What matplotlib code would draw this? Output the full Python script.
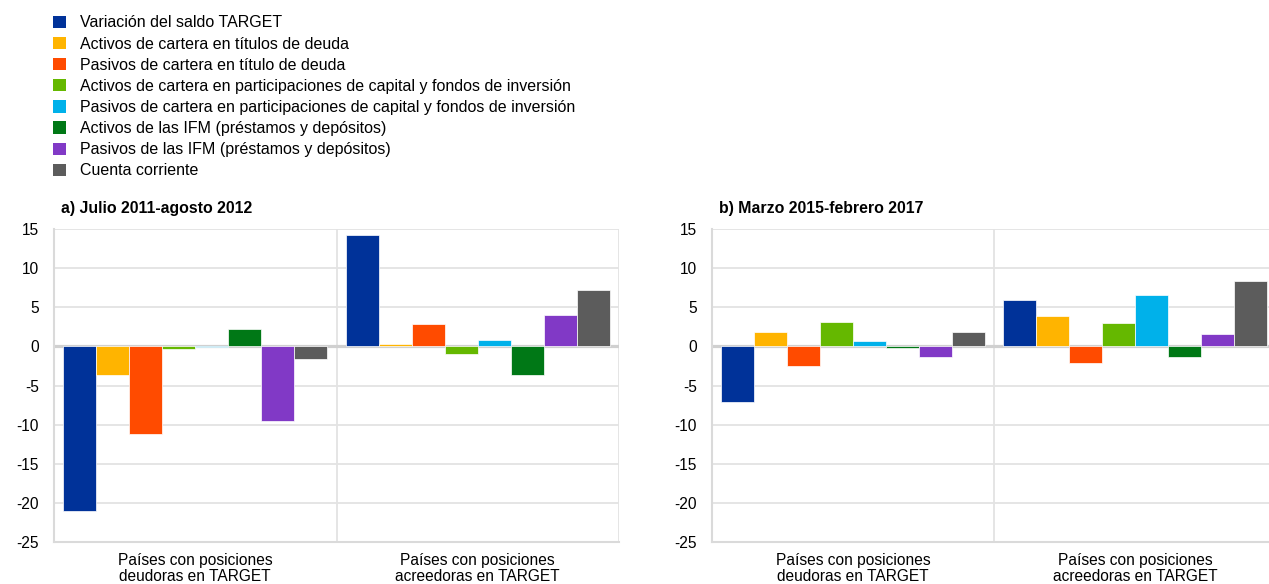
import numpy as np
import matplotlib.pyplot as plt
from matplotlib.patches import Patch

plt.rcParams['font.family'] = ['Liberation Sans', 'DejaVu Sans']
plt.rcParams['axes.unicode_minus'] = False

series = ['Variación del saldo TARGET',
          'Activos de cartera en títulos de deuda',
          'Pasivos de cartera en título de deuda',
          'Activos de cartera en participaciones de capital y fondos de inversión',
          'Pasivos de cartera en participaciones de capital y fondos de inversión',
          'Activos de las IFM (préstamos y depósitos)',
          'Pasivos de las IFM (préstamos y depósitos)',
          'Cuenta corriente']
colors = ['#003299', '#FFB400', '#FF4B00', '#65B800',
          '#00B1EA', '#007816', '#8139C6', '#5C5C5C']
categories = ['Países con posiciones\ndeudoras en TARGET',
              'Países con posiciones\nacreedoras en TARGET']

# rows: debtor countries, creditor countries; columns: series
panel_a = [[-21.0, -3.6, -11.2, -0.3, -0.1, 2.2, -9.6, -1.6],
           [14.2, 0.3, 2.8, -1.0, 0.8, -3.7, 4.0, 7.2]]
panel_b = [[-7.1, 1.8, -2.5, 3.1, 0.7, -0.2, -1.4, 1.9],
           [5.9, 3.9, -2.1, 3.0, 6.6, -1.4, 1.6, 8.4]]
titles = ['a) Julio 2011-agosto 2012', 'b) Marzo 2015-febrero 2017']

W, H = 1269, 584
fig = plt.figure(figsize=(W / 100, H / 100), dpi=100)
ax_a = fig.add_axes([54 / W, 1 - 542 / H, 565 / W, 313 / H])
ax_b = fig.add_axes([712 / W, 1 - 542 / H, 564 / W, 313 / H])

grid_c = '#E3E3E3'
fs = 11.2
bw = 0.117
for ax, data, title in zip([ax_a, ax_b], [panel_a, panel_b], titles):
    data = np.array(data)
    for i in range(len(series)):
        x = np.arange(2) + 0.5 + (i - 3.5) * bw
        ax.bar(x, data[:, i], width=bw, color=colors[i],
               edgecolor='white', linewidth=0.5, zorder=3)
    ax.set_xlim(0, 2)
    ax.set_ylim(-25, 15)
    ax.set_yticks(np.arange(-25, 16, 5))
    ax.yaxis.grid(True, color=grid_c, linewidth=1.3, zorder=0)
    ax.axhline(0, color='#D0D0D0', linewidth=2.3, zorder=2)
    for xv in [1, 2]:
        ax.axvline(xv, color=grid_c, linewidth=1.3, zorder=1)
    ax.set_xticks([0.5, 1.5])
    ax.set_xticklabels(categories, fontsize=fs, linespacing=1.1)
    ax.tick_params(axis='x', length=0, pad=8)
    ax.tick_params(axis='y', length=0, labelsize=fs, pad=11)
    for s in ['top', 'right']:
        ax.spines[s].set_visible(False)
    for s in ['left', 'bottom']:
        ax.spines[s].set_color('#DADADA')
        ax.spines[s].set_linewidth(1.5)
    ax.text(7 / 565, 329 / 313, title, transform=ax.transAxes,
            fontsize=11.4, fontweight='bold', va='baseline', ha='left')

handles = [Patch(facecolor=c, edgecolor='none') for c in colors]
fig.legend(handles, series, loc='upper left', bbox_to_anchor=(47 / W, 1 - 9 / H),
           frameon=False, fontsize=11.5, handlelength=0.81, handleheight=0.81,
           handletextpad=0.87, labelspacing=0.385, borderaxespad=0)

fig.savefig('out.png', dpi=100)
